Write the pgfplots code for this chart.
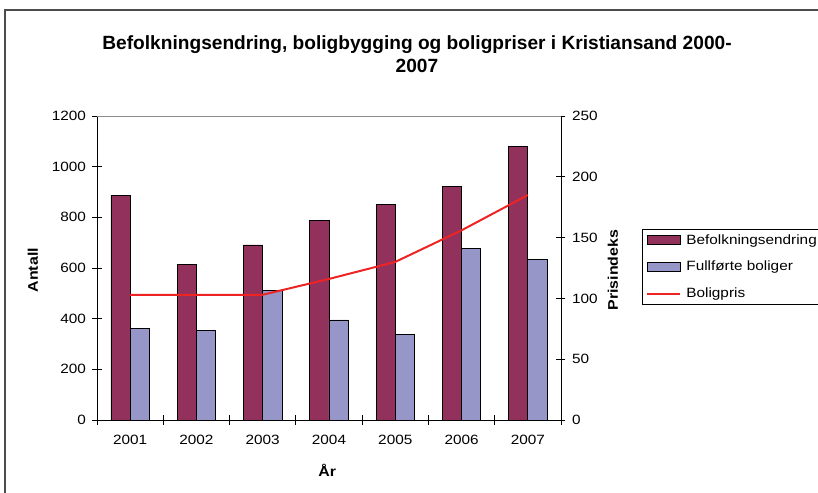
\documentclass[border=0pt]{standalone}
\usepackage{fontspec}
\setmainfont{Liberation Sans}
\newfontfamily\widefont{Liberation Sans}[FakeStretch=1.14]
\usepackage{pgfplots}
\pgfplotsset{compat=1.18}

\definecolor{plum}{RGB}{147,49,93}
\definecolor{peri}{RGB}{150,150,200}
\definecolor{prisred}{RGB}{238,36,36}

\pgfplotsset{
  barleg/.style={legend image code/.code={\draw[##1] (0bp,-4.5bp) rectangle (33bp,4.5bp);}},
  lineleg/.style={legend image code/.code={\draw[##1] (0bp,0bp) -- (33bp,0bp);}},
  common/.style={
    at={(97bp,73bp)}, anchor=south west,
    scale only axis, width=464bp, height=304bp,
    xmin=0.5, xmax=7.5,
    tick align=center, major tick length=9bp, minor tick length=9bp,
    tick style={black, line width=0.8bp},
    ticklabel style={font=\widefont\fontsize{13.5}{15}\selectfont},
    /pgf/number format/assume math mode=true,
    /pgf/number format/1000 sep={},
    label style={font=\widefont\fontsize{14}{16}\selectfont\bfseries},
  },
}

\begin{document}
\begin{tikzpicture}
\useasboundingbox (0bp,0bp) rectangle (818bp,493bp);
% chart frame (cut off at right and bottom)
\draw[line width=1.5bp, black!70] (5bp,-5bp) -- (5bp,483bp) -- (830bp,483bp);
\node[font=\fontsize{19.2}{23}\selectfont\bfseries, align=center] at (417bp,439bp)
  {Befolkningsendring, boligbygging og boligpriser i Kristiansand 2000-\\2007};

\begin{axis}[
  common,
  ymin=0, ymax=1200,
  axis x line*=bottom, axis y line*=left,
  axis line style={black, line width=0.8bp},
  xtick={1,2,3,4,5,6,7},
  xticklabels={2001,2002,2003,2004,2005,2006,2007},
  x tick label style={yshift=-7bp},
  y tick label style={xshift=-3bp},
  major x tick style={draw=none},
  minor xtick={0.5,1.5,...,7.5},
  ytick={0,200,...,1200},
  xlabel={År},
  xlabel style={at={(axis description cs:0.496,-0.164)}, anchor=center},
  ylabel={Antall},
  ylabel style={at={(axis description cs:-0.138,0.493)}, anchor=center},
]
\addplot[ybar, bar width=0.29, bar shift=-0.145, fill=plum, draw=black, line width=0.8bp]
  coordinates {(1,887) (2,615) (3,691) (4,787) (5,850) (6,921) (7,1079)};
\addplot[ybar, bar width=0.29, bar shift=0.145, fill=peri, draw=black, line width=0.8bp]
  coordinates {(1,360) (2,352) (3,510) (4,395) (5,337) (6,678) (7,634)};
\end{axis}

\begin{axis}[
  common,
  ymin=0, ymax=250,
  axis y line*=right, axis x line*=top,
  x axis line style={black!45, line width=0.6bp},
  y axis line style={black, line width=0.8bp},
  xtick=\empty,
  ytick={0,50,...,250},
  y tick label style={xshift=3bp},
  ylabel={Prisindeks},
  ylabel style={at={(axis description cs:1.112,0.493)}, anchor=center},
  legend style={at={(axis description cs:1.1746,0.628)}, anchor=north west,
    draw=black, line width=0.8bp, font=\widefont\fontsize{13.5}{15}\selectfont,
    row sep=11.5bp, inner xsep=4bp, inner ysep=3bp, cells={anchor=west},
    /tikz/every odd column/.append style={column sep=3bp}},
]
\addlegendimage{barleg, fill=plum, draw=black, line width=0.8bp}
\addlegendentry[text width=140bp]{Befolkningsendring}
\addlegendimage{barleg, fill=peri, draw=black, line width=0.8bp}
\addlegendentry{Fullførte boliger}
\addplot[lineleg, prisred, line width=2bp, mark=none]
  coordinates {(1,103) (2,103) (3,103) (4,116) (5,130) (6,156) (7,185)};
\addlegendentry{Boligpris}
\end{axis}
\end{tikzpicture}
\end{document}
